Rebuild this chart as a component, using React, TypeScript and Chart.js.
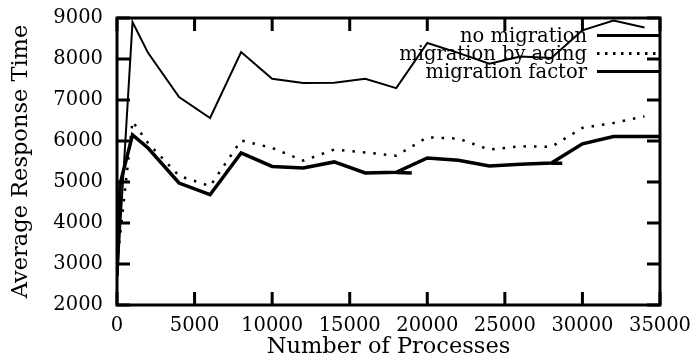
import React, { useEffect, useRef } from "react";
import { Chart, registerables } from "chart.js";

Chart.register(...registerables);

// ---- data ----
const noMigX = [0, 1000, 2000, 4000, 6000, 8000, 10000, 12000, 14000, 16000, 18000, 20000, 22000, 24000, 26000, 28000, 30000, 32000, 34000];
const noMigY = [2600, 8900, 8150, 7070, 6560, 8170, 7520, 7415, 7420, 7520, 7290, 8390, 8150, 7885, 8060, 8025, 8700, 8940, 8770];

const agingX = [0, 1000, 2000, 4000, 6000, 8000, 10000, 12000, 14000, 16000, 18000, 20000, 22000, 24000, 26000, 28000, 30000, 32000, 34000];
const agingY = [3000, 6480, 5950, 5150, 4900, 6015, 5830, 5520, 5790, 5720, 5640, 6090, 6060, 5790, 5870, 5860, 6320, 6440, 6600];

const factorX = [0, 200, 1000, 2000, 4000, 6000, 8000, 10000, 12000, 14000, 16000, 18000, 20000, 22000, 24000, 26000, 28000, 30000, 32000, 35000];
const factorY = [2700, 4950, 6150, 5830, 4975, 4690, 5710, 5380, 5340, 5490, 5220, 5235, 5585, 5530, 5390, 5430, 5465, 5930, 6110, 6110];

// short overlapping pieces of the migration-factor curve
const factorStubX = [18000, 19000, 19500, 28000, 28700];
const factorStubY = [5230, 5220, NaN, 5460, 5460];

const seriesLabels = ["no migration", "migration by aging", "migration factor"];
const xTickValues = [0, 5000, 10000, 15000, 20000, 25000, 30000, 35000];
const yTickValues = [2000, 3000, 4000, 5000, 6000, 7000, 8000, 9000];

const FONT = "'DejaVu Serif', serif";

const zip = (xs: number[], ys: number[]) => xs.map((x, i) => ({ x, y: isNaN(ys[i]) ? null : ys[i] }));

const framePlugin = {
  id: "frame",
  afterDatasetsDraw(chart: any) {
    const { ctx, chartArea: a, scales } = chart;
    const xs = scales.x;
    const ys = scales.y;
    ctx.save();
    ctx.strokeStyle = "#000";
    ctx.lineWidth = 3;
    ctx.lineCap = "butt";
    ctx.strokeRect(a.left, a.top, a.right - a.left, a.bottom - a.top);
    const tl = 13;
    ctx.beginPath();
    xTickValues.forEach((v) => {
      const p = xs.getPixelForValue(v);
      ctx.moveTo(p, a.bottom);
      ctx.lineTo(p, a.bottom - tl);
      ctx.moveTo(p, a.top);
      ctx.lineTo(p, a.top + tl);
    });
    yTickValues.forEach((v) => {
      const p = ys.getPixelForValue(v);
      ctx.moveTo(a.left, p);
      ctx.lineTo(a.left + tl, p);
      ctx.moveTo(a.right, p);
      ctx.lineTo(a.right - tl, p);
    });
    ctx.stroke();

    // legend inside the plot, top right
    ctx.font = `19.5px ${FONT}`;
    ctx.textAlign = "right";
    ctx.textBaseline = "middle";
    ctx.fillStyle = "#000";
    chart.data.datasets
      .filter((ds: any) => ds.label)
      .forEach((ds: any, i: number) => {
        const y = a.top + 17.5 + i * 18;
        ctx.fillText(ds.label, a.right - 73, y + 1);
        ctx.beginPath();
        ctx.lineWidth = 3;
        ctx.setLineDash(ds.borderDash && ds.borderDash.length ? [2.5, 5.5] : []);
        ctx.moveTo(a.right - 63, y);
        ctx.lineTo(a.right, y);
        ctx.stroke();
      });
    ctx.restore();
  },
};

export default function App() {
  const ref = useRef<HTMLCanvasElement>(null);
  useEffect(() => {
    if (!ref.current) return;
    const chart = new Chart(ref.current, {
      type: "line",
      data: {
        datasets: [
          {
            label: seriesLabels[0],
            data: zip(noMigX, noMigY),
            borderColor: "#000",
            borderWidth: 2,
            pointRadius: 0,
            tension: 0,
          },
          {
            label: seriesLabels[1],
            data: zip(agingX, agingY),
            borderColor: "#000",
            borderWidth: 2.5,
            borderDash: [2.5, 8],
            pointRadius: 0,
            tension: 0,
          },
          {
            label: seriesLabels[2],
            data: zip(factorX, factorY),
            borderColor: "#000",
            borderWidth: 3.5,
            pointRadius: 0,
            tension: 0,
          },
          {
            label: "",
            data: zip(factorStubX, factorStubY),
            borderColor: "#000",
            borderWidth: 3.5,
            pointRadius: 0,
            tension: 0,
            spanGaps: false,
          },
        ],
      },
      options: {
        animation: false,
        responsive: false,
        layout: { padding: { top: 18, right: 37, left: 0, bottom: 0 } },
        plugins: { legend: { display: false }, tooltip: { enabled: false } },
        scales: {
          x: {
            type: "linear",
            min: 0,
            max: 35000,
            afterFit: (s: any) => {
              s.height = 58;
              s.paddingLeft = 0;
              s.paddingRight = 0;
            },
            afterBuildTicks: (s: any) => {
              s.ticks = xTickValues.map((v) => ({ value: v }));
            },
            ticks: {
              color: "#000",
              font: { family: FONT, size: 19.5 },
              padding: 9,
              maxRotation: 0,
              autoSkip: false,
              callback: (v: any) => String(v),
            },
            grid: { display: false, drawTicks: false },
            border: { display: false },
            title: {
              display: true,
              text: "Number of Processes",
              color: "#000",
              font: { family: FONT, size: 22.5 },
              padding: { top: 0, bottom: 2 },
            },
          },
          y: {
            type: "linear",
            min: 2000,
            max: 9000,
            afterFit: (s: any) => {
              s.width = 117;
              s.paddingTop = 0;
              s.paddingBottom = 0;
            },
            afterBuildTicks: (s: any) => {
              s.ticks = yTickValues.map((v) => ({ value: v }));
            },
            ticks: {
              color: "#000",
              font: { family: FONT, size: 19.5 },
              padding: 14,
              autoSkip: false,
              callback: (v: any) => String(v),
            },
            grid: { display: false, drawTicks: false },
            border: { display: false },
            title: {
              display: true,
              text: "Average Response Time",
              color: "#000",
              font: { family: FONT, size: 22.5 },
              padding: { top: 8, bottom: 0 },
            },
          },
        },
      },
      plugins: [framePlugin],
    });
    return () => chart.destroy();
  }, []);
  return (
    <div style={{ position: "absolute", left: 0, top: 0, width: 697, height: 363, background: "#fff" }}>
      <canvas ref={ref} width={697} height={363} style={{ display: "block" }} />
    </div>
  );
}
